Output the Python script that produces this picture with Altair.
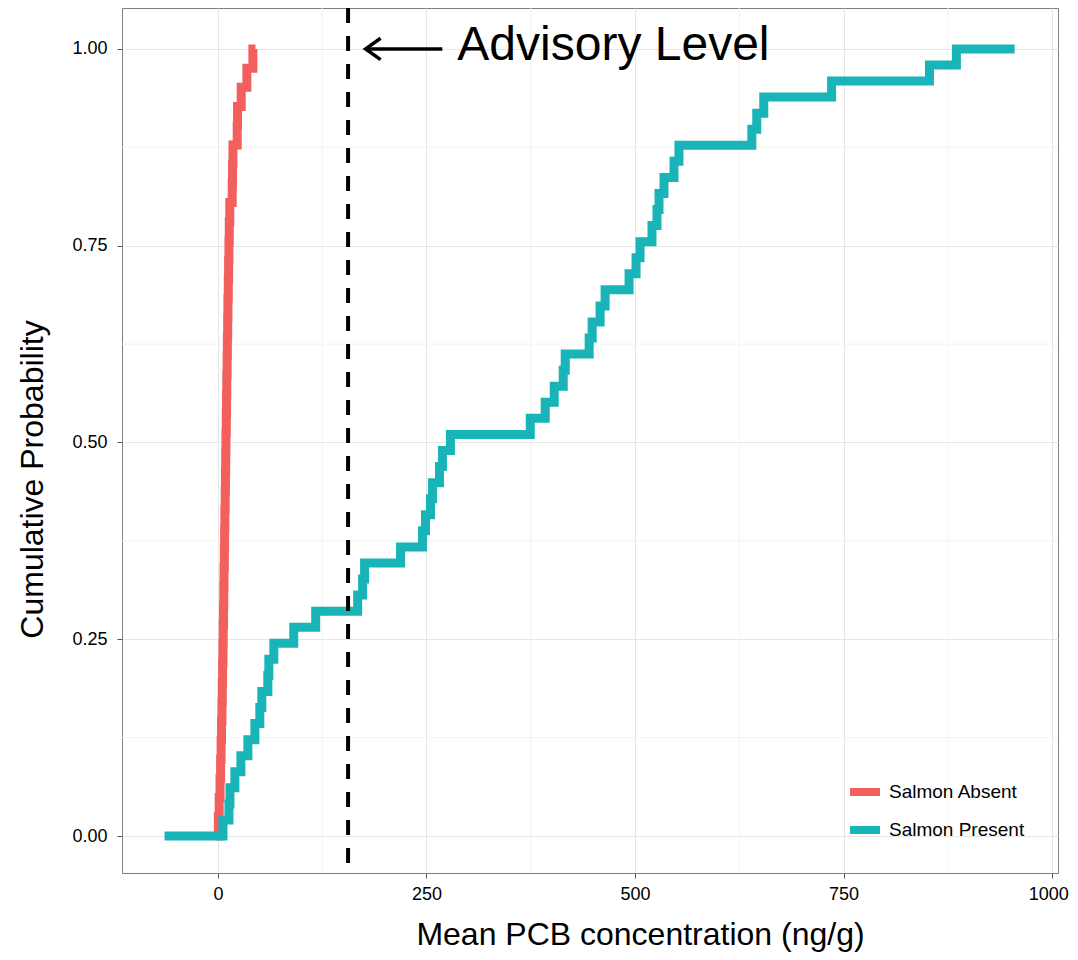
import altair as alt
import pandas as pd

# ---- data ----
series_names = ["Salmon Absent", "Salmon Present"]
series_colors = ["#F25F5C", "#18B4B8"]

# sorted PCB concentrations (ng/g) of each group (ECDF jump positions)
absent_values = [0.5, 1.5, 2.5, 3.2, 3.8, 4.3, 4.8, 5.2, 5.6, 6.0, 6.3, 6.7, 7.0, 7.3,
                 7.7, 8.0, 8.3, 8.7, 9.0, 9.3, 9.6, 10.0, 10.3, 10.6, 11.0, 11.3, 11.7,
                 12.0, 12.4, 12.8, 13.2, 13.6, 14.2, 17.1, 17.5, 18.0, 23.1, 23.5, 27.9,
                 34.7, 41.9]
absent_range = [-3, 45]

present_values = [6.0, 13.2, 14.4, 20.3, 27.5, 35.9, 44.3, 50.2, 52.6, 59.8, 61.0, 67.0,
                  90.9, 117.2, 167.5, 173.4, 175.8, 218.9, 245.2, 248.8, 254.8, 257.2,
                  265.6, 269.1, 278.7, 374.4, 392.3, 403.1, 413.9, 416.3, 445.0, 448.6,
                  458.1, 464.1, 492.8, 501.2, 506.0, 520.3, 526.3, 528.7, 534.7, 546.7,
                  552.6, 640.0, 645.9, 654.3, 735.6, 852.9, 885.2]
present_range = [-64, 955]

advisory_level = [156]
x_ticks = [0, 250, 500, 750, 1000]
y_ticks = [0.0, 0.25, 0.5, 0.75, 1.0]
x_minor = [125, 375, 625, 875]
y_minor = [0.125, 0.375, 0.625, 0.875]
x_domain = [-115, 1007]
y_domain = [-0.047, 1.052]

annotation_text = ["Advisory Level"]
annotation_pos = [287, 1.0]
arrow_shaft = [177, 269, 1.0]
arrow_head_x = [195, 177, 195]
arrow_head_y = [1.0135, 1.0, 0.9865]


def ecdf_rows(name, values, rng):
    n = len(values)
    rows = [{"group": name, "x": rng[0], "p": 0.0}]
    for i, v in enumerate(values):
        rows.append({"group": name, "x": v, "p": (i + 1) / n})
    rows.append({"group": name, "x": rng[1], "p": 1.0})
    return rows


ecdf = pd.DataFrame(ecdf_rows(series_names[0], absent_values, absent_range)
                    + ecdf_rows(series_names[1], present_values, present_range))

FONT = "Liberation Sans"

xscale = alt.Scale(domain=x_domain, nice=False, zero=False)
yscale = alt.Scale(domain=y_domain, nice=False, zero=False)

minor_x = alt.Chart(pd.DataFrame({"x": x_minor})).mark_rule(
    color="#f3f3f3", strokeWidth=1).encode(x=alt.X("x:Q", scale=xscale))
minor_y = alt.Chart(pd.DataFrame({"y": y_minor})).mark_rule(
    color="#f3f3f3", strokeWidth=1).encode(y=alt.Y("y:Q", scale=yscale))

lines = alt.Chart(ecdf).mark_line(
    interpolate="step-after", strokeWidth=9, strokeCap="butt").encode(
    x=alt.X("x:Q", scale=xscale,
            axis=alt.Axis(values=x_ticks, title="Mean PCB concentration (ng/g)",
                          format="d", titlePadding=16, labelPadding=7,
                          titleX=518,
                          labelOffset={"expr": "datum.value == 1000 ? -4 : 0"})),
    y=alt.Y("p:Q", scale=yscale,
            axis=alt.Axis(values=y_ticks, title="Cumulative Probability",
                          format=".2f", titlePadding=22, labelPadding=10,
                          titleY=471)),
    color=alt.Color("group:N",
                    scale=alt.Scale(domain=series_names, range=series_colors),
                    legend=alt.Legend(orient="none", legendX=724, legendY=765,
                                      title=None, symbolType="stroke",
                                      symbolStrokeWidth=8, symbolSize=900,
                                      labelFontSize=19, labelFont=FONT,
                                      labelColor="black", rowPadding=3,
                                      labelOffset=5, padding=0)),
)

advisory = alt.Chart(pd.DataFrame({"x": advisory_level})).mark_rule(
    color="black", strokeWidth=4, strokeDash=[15, 13]).encode(
    x=alt.X("x:Q", scale=xscale))

shaft = alt.Chart(pd.DataFrame({"x": [arrow_shaft[0]], "x2": [arrow_shaft[1]],
                                "y": [arrow_shaft[2]]})).mark_rule(
    color="black", strokeWidth=3.5).encode(
    x=alt.X("x:Q", scale=xscale), x2="x2:Q", y=alt.Y("y:Q", scale=yscale))

head = alt.Chart(pd.DataFrame({"x": arrow_head_x, "y": arrow_head_y,
                               "i": [0, 1, 2]})).mark_line(
    color="black", strokeWidth=3.5).encode(
    x=alt.X("x:Q", scale=xscale), y=alt.Y("y:Q", scale=yscale), order="i:Q")

label = alt.Chart(pd.DataFrame({"x": [annotation_pos[0]], "y": [annotation_pos[1]],
                                "t": annotation_text})).mark_text(
    align="left", baseline="middle", fontSize=48, font=FONT, color="black", dy=-3).encode(
    x=alt.X("x:Q", scale=xscale), y=alt.Y("y:Q", scale=yscale), text="t:N")

chart = alt.layer(minor_x, minor_y, lines, advisory, shaft, head, label).properties(
    width=936, height=865,
    autosize=alt.AutoSizeParams(type="none"),
    padding={"left": 114, "top": 0, "right": 12, "bottom": 79},
).configure_view(
    stroke="#7f7f7f", strokeWidth=1
).configure_axis(
    domain=False, tickColor="#555555", tickSize=5, gridColor="#e6e6e6",
    labelFont=FONT, labelFontSize=18, labelColor="black",
    titleFont=FONT, titleFontSize=32, titleFontWeight="normal", titleColor="black",
)

chart.save("out.html", embed_options={"renderer": "svg", "actions": False})
